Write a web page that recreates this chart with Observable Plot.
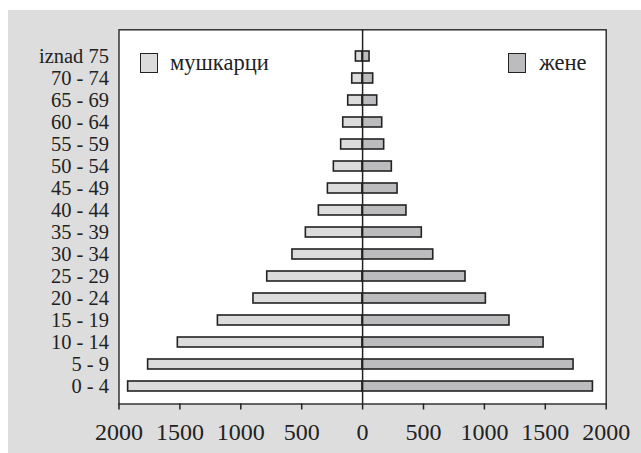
<!DOCTYPE html>
<html><head><meta charset="utf-8">
<script src="https://cdn.jsdelivr.net/npm/d3@7"></script>
<script src="https://cdn.jsdelivr.net/npm/@observablehq/plot@0.6"></script>
<style>
body{margin:0;background:#fff;}
#wrap{position:absolute;left:8px;top:10px;width:633px;height:443px;background:#dddddd;overflow:hidden;}
#wrap svg{position:absolute;left:0;top:0;}
.sw{position:absolute;width:16px;height:18px;border:1.7px solid #222;}
.lt{position:absolute;font-family:"Liberation Serif",serif;font-size:22.5px;line-height:22px;color:#222;white-space:nowrap;}
</style>
</head><body>
<div id="wrap"></div>
<script>
const ages = ["iznad 75","70 - 74","65 - 69","60 - 64","55 - 59","50 - 54","45 - 49","40 - 44","35 - 39","30 - 34","25 - 29","20 - 24","15 - 19","10 - 14","5 - 9","0 - 4"];
const men   = [55, 85, 118, 159, 176, 236, 285, 359, 466, 576, 783, 896, 1188, 1517, 1761, 1925];
const women = [57, 87, 120, 161, 177, 240, 287, 360, 486, 580, 845, 1012, 1206, 1486, 1732, 1891];
const xTicks = [-2000,-1500,-1000,-500,0,500,1000,1500,2000];
const seriesNames = ["мушкарци","жене"];
const seriesColors = ["#dcdcdc","#bcbcbf"];

const data = ages.flatMap((a,i)=>[
  {age:a, sex:seriesNames[0], value:-men[i]},
  {age:a, sex:seriesNames[1], value:women[i]}
]);

const chart = Plot.plot({
  width:633, height:443,
  marginLeft:110.5, marginRight:35.3, marginTop:19.3, marginBottom:49.5,
  style:{background:"transparent", fontFamily:"'Liberation Serif', serif", color:"#222", overflow:"visible"},
  x:{domain:[-2000,2000]},
  y:{domain:ages, paddingInner:0.556, paddingOuter:0.278, insetTop:7.7, insetBottom:-1.2},
  color:{domain:seriesNames, range:seriesColors},
  marks:[
    Plot.frame({fill:"white", stroke:"#333", strokeWidth:1.5}),
    Plot.barX(data,{x:"value", y:"age", fill:"sex", stroke:"#222", strokeWidth:1.6}),
    Plot.ruleX([0],{stroke:"#222", strokeWidth:1.5}),
    Plot.axisX({ticks:xTicks, tickFormat:d=>String(Math.abs(d)), tickSize:6, tickPadding:12.5, fontSize:24, letterSpacing:"-0.5px", stroke:"#222", strokeWidth:1.5, label:null}),
    Plot.axisY({tickSize:0, tickPadding:10, fontSize:20.5, label:null})
  ]
});
const wrap = document.getElementById("wrap");
wrap.appendChild(chart);

// legend (HTML overlay)
const leg = [
  {name:seriesNames[0], color:seriesColors[0], bx:132, tx:162},
  {name:seriesNames[1], color:seriesColors[1], bx:500.3, tx:531.3}
];
for (const l of leg) {
  const b = document.createElement("div");
  b.className = "sw"; b.style.left = l.bx+"px"; b.style.top = "42.7px"; b.style.background = l.color;
  wrap.appendChild(b);
  const t = document.createElement("div");
  t.className = "lt"; t.style.left = l.tx+"px"; t.style.top = "41.5px"; t.textContent = l.name;
  wrap.appendChild(t);
}
</script>
</body></html>
